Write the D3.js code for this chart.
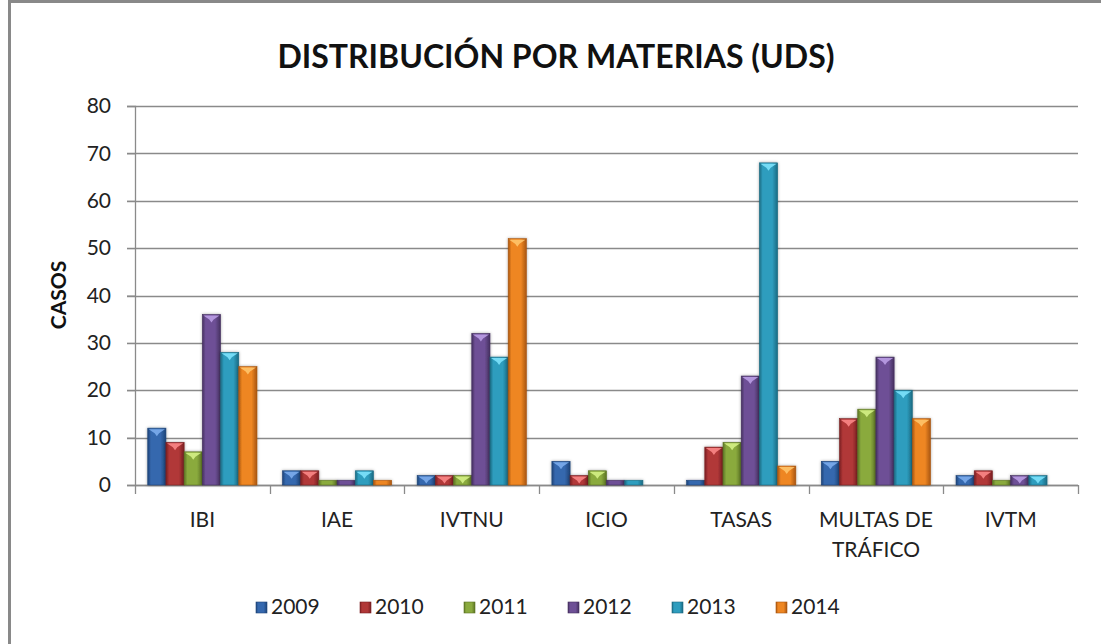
<!DOCTYPE html>
<html>
<head>
<meta charset="utf-8">
<script src="https://cdn.jsdelivr.net/npm/d3@7"></script>
<style>
  body { margin: 0; background: #fff; }
  svg { display: block; font-family: Lato, "Open Sans", sans-serif; }
</style>
</head>
<body>
<div id="chart"></div>
<script>
// data
var categories = ["IBI", "IAE", "IVTNU", "ICIO", "TASAS", "MULTAS DE TRÁFICO", "IVTM"];
var years = ["2009", "2010", "2011", "2012", "2013", "2014"];
var v2009 = [12, 3, 2, 5, 1, 5, 2];
var v2010 = [9, 3, 2, 2, 8, 14, 3];
var v2011 = [7, 1, 2, 3, 9, 16, 1];
var v2012 = [36, 1, 32, 1, 23, 27, 2];
var v2013 = [28, 3, 27, 1, 68, 20, 2];
var v2014 = [25, 1, 52, 0, 4, 14, 0];
var yTicks = [0, 10, 20, 30, 40, 50, 60, 70, 80];

var seriesValues = [v2009, v2010, v2011, v2012, v2013, v2014];
// [main, dark edge, light top]
var colors = [
  ["#3568AE", "#1E4478", "#7FB0F0"],
  ["#B13838", "#7A1F22", "#FF8C8C"],
  ["#8AAA3E", "#5C7424", "#D8F58A"],
  ["#6E5096", "#45305F", "#C0A2EA"],
  ["#2E9DBE", "#1B6A82", "#80E6FF"],
  ["#EE8622", "#A85510", "#FFC870"]
];

const width = 1101;
const height = 644;
const margin = { top: 106, bottom: 159, left: 135, right: 23 };

const svg = d3.select("#chart")
  .append("svg")
  .attr("width", width)
  .attr("height", height);

// outer chart border (cut off at right / bottom like the source)
svg.append("rect")
  .attr("x", 9.5).attr("y", 1.5)
  .attr("width", 1200).attr("height", 800)
  .attr("fill", "none")
  .attr("stroke", "#898989")
  .attr("stroke-width", 3);

const defs = svg.append("defs");
colors.forEach(function (c, i) {
  const g = defs.append("linearGradient")
    .attr("id", "grad" + i)
    .attr("x1", "0%").attr("x2", "100%").attr("y1", "0%").attr("y2", "0%");
  g.append("stop").attr("offset", "0%").attr("stop-color", c[1]);
  g.append("stop").attr("offset", "18%").attr("stop-color", c[0]);
  g.append("stop").attr("offset", "70%").attr("stop-color", c[0]);
  g.append("stop").attr("offset", "100%").attr("stop-color", c[1]);
});
const shadow = defs.append("filter").attr("id", "shadow")
  .attr("x", "-30%").attr("y", "-30%").attr("width", "160%").attr("height", "160%");
shadow.append("feDropShadow")
  .attr("dx", 0).attr("dy", 0).attr("stdDeviation", 1.5)
  .attr("flood-color", "#000").attr("flood-opacity", 0.35);

const x0 = d3.scaleBand()
  .domain(categories)
  .range([margin.left, width - margin.right])
  .padding(0);

const x1 = d3.scaleBand()
  .domain(years)
  .range([0, x0.bandwidth()])
  .paddingInner(0)
  .paddingOuter(0.7);

const y = d3.scaleLinear()
  .domain([0, 80])
  .range([height - margin.bottom, margin.top]);

// gridlines
svg.append("g")
  .selectAll("line")
  .data(yTicks)
  .join("line")
  .attr("x1", margin.left - 8)
  .attr("x2", width - margin.right)
  .attr("y1", d => Math.round(y(d)) + 0.5)
  .attr("y2", d => Math.round(y(d)) + 0.5)
  .attr("stroke", "#8a8a8a")
  .attr("stroke-width", 1.3);

// y axis
function yAxis(g) {
  g.attr("transform", `translate(${margin.left}, 0)`)
    .call(d3.axisLeft(y).tickValues(yTicks).tickSize(8).tickPadding(16))
    .attr("font-size", 21)
    .attr("font-family", "Lato, sans-serif");
  g.select(".domain").attr("stroke", "#8a8a8a").attr("stroke-width", 1.3);
  g.selectAll(".tick line").attr("stroke", "#8a8a8a");
  g.selectAll(".tick text").attr("fill", "#222");
}
svg.append("g").call(yAxis);

// x axis line + category ticks
const xAxisG = svg.append("g");
xAxisG.append("line")
  .attr("x1", margin.left).attr("x2", width - margin.right)
  .attr("y1", y(0) + 0.5).attr("y2", y(0) + 0.5)
  .attr("stroke", "#8a8a8a").attr("stroke-width", 1.3);
xAxisG.selectAll("line.ct")
  .data(categories.concat(["end"]))
  .join("line")
  .attr("class", "ct")
  .attr("x1", (d, i) => Math.round(i < categories.length ? x0(d) : width - margin.right) + 0.5)
  .attr("x2", (d, i) => Math.round(i < categories.length ? x0(d) : width - margin.right) + 0.5)
  .attr("y1", y(0))
  .attr("y2", y(0) + 9)
  .attr("stroke", "#8a8a8a").attr("stroke-width", 1.3);

// category labels (wrap the long one)
const catLabels = xAxisG.selectAll("text.cat")
  .data(categories)
  .join("text")
  .attr("class", "cat")
  .attr("x", d => x0(d) + x0.bandwidth() / 2)
  .attr("y", y(0) + 42)
  .attr("text-anchor", "middle")
  .attr("font-size", 21)
  .attr("fill", "#222");
catLabels.each(function (d) {
  const t = d3.select(this);
  const parts = d === "MULTAS DE TRÁFICO" ? ["MULTAS DE", "TRÁFICO"] : [d];
  parts.forEach(function (p, i) {
    t.append("tspan")
      .attr("x", x0(d) + x0.bandwidth() / 2)
      .attr("dy", i === 0 ? 0 : 30)
      .text(p);
  });
});

// bars
const groups = svg.append("g")
  .selectAll("g")
  .data(years)
  .join("g")
  .attr("filter", "url(#shadow)");

groups.each(function (yr, si) {
  const g = d3.select(this);
  const data = categories.map((c, ci) => ({ cat: c, value: seriesValues[si][ci] }))
    .filter(d => d.value > 0);
  g.selectAll("rect")
    .data(data)
    .join("rect")
    .attr("x", d => x0(d.cat) + x1(yr))
    .attr("y", d => y(d.value))
    .attr("width", x1.bandwidth())
    .attr("height", d => y(0) - y(d.value))
    .attr("fill", "url(#grad" + si + ")")
    .attr("stroke", colors[si][1])
    .attr("stroke-width", 0.6);
  // bevel highlight at the top of each bar
  g.selectAll("path")
    .data(data.filter(d => y(0) - y(d.value) > 6))
    .join("path")
    .attr("d", function (d) {
      const bx = x0(d.cat) + x1(yr);
      const bw = x1.bandwidth();
      const by = y(d.value);
      return `M${bx + 1},${by + 1}L${bx + bw - 1},${by + 1}L${bx + bw * 0.62},${by + 5}L${bx + bw / 2},${by + 8}L${bx + bw * 0.38},${by + 5}Z`;
    })
    .attr("fill", colors[si][2])
    .attr("opacity", 0.85);
});

// title
svg.append("text")
  .attr("x", 556)
  .attr("y", 68)
  .attr("text-anchor", "middle")
  .attr("font-size", 32)
  .attr("font-weight", "bold")
  .attr("fill", "#111")
  .text("DISTRIBUCIÓN POR MATERIAS (UDS)");

// y axis title
svg.append("text")
  .attr("transform", "translate(66,295) rotate(-90)")
  .attr("text-anchor", "middle")
  .attr("font-size", 21)
  .attr("font-weight", "bold")
  .attr("fill", "#111")
  .text("CASOS");

// legend
const legendStep = 104;
const legendX = 256;
const legend = svg.append("g")
  .attr("transform", `translate(${legendX}, 607)`);
const li = legend.selectAll("g")
  .data(years)
  .join("g")
  .attr("transform", (d, i) => `translate(${i * legendStep}, 0)`);
li.append("rect")
  .attr("x", 0).attr("y", -5)
  .attr("width", 11).attr("height", 11)
  .attr("fill", (d, i) => "url(#grad" + i + ")")
  .attr("stroke", (d, i) => colors[i][1])
  .attr("stroke-width", 0.6);
li.append("text")
  .attr("x", 15)
  .attr("y", 7)
  .attr("font-size", 21)
  .attr("fill", "#222")
  .text(d => d);
</script>
</body>
</html>
